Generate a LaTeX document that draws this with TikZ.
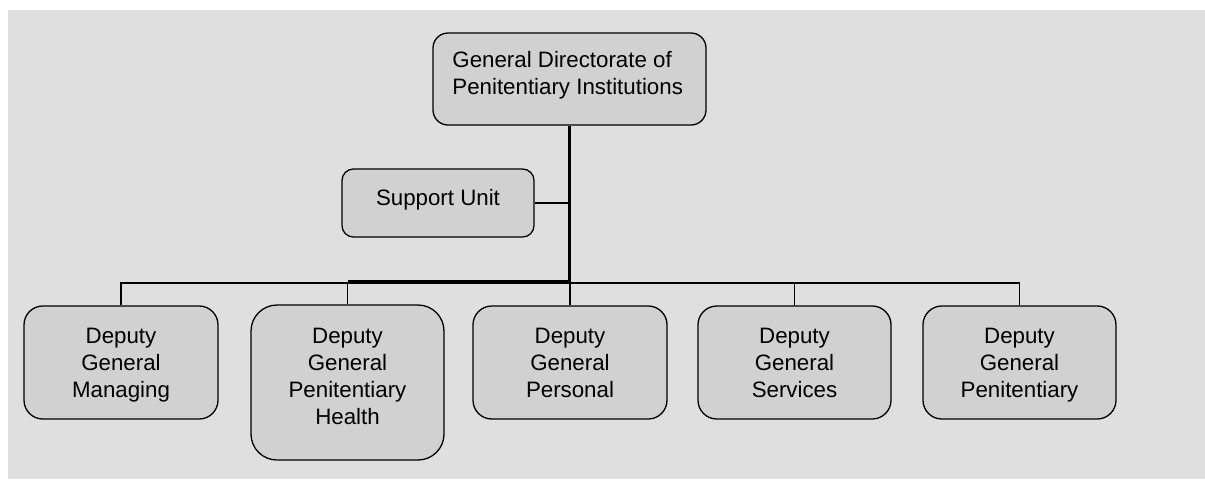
\documentclass[tikz,border=0pt]{standalone}
\usepackage{fontspec}
\setmainfont{Liberation Sans}
\definecolor{pagegray}{HTML}{DFDFDF}
\definecolor{boxgray}{HTML}{D1D1D1}
\begin{document}
\begin{tikzpicture}[x=0.5pt,y=-0.5pt,
  font=\fontsize{11.15}{13.5}\selectfont,
  unit/.style={draw=black, line width=0.65pt, fill=boxgray, inner sep=0pt},
  caption/.style={inner sep=0pt, align=center, anchor=base},
  link/.style={line width=0.65pt},
  spine/.style={line width=1.5pt}]
\useasboundingbox (0,0) rectangle (1205,479);
\fill[pagegray] (8,10) rectangle (1205,479);

% boxes (captions are placed by the baseline of their last line)
\node[unit, rounded corners=7.5pt, minimum width=136.5pt, minimum height=46pt] (top) at (569.5,79) {};
\node[inner sep=0pt, anchor=base west, align=left] at (452,94) {General Directorate of\\Penitentiary Institutions};

\node[unit, rounded corners=5.7pt, minimum width=96pt, minimum height=34pt] (sup) at (438,203) {};
\node[caption] at (438,205) {Support Unit};

\node[unit, rounded corners=9.4pt, minimum width=97pt, minimum height=56.5pt] (b1) at (121,362.5) {};
\node[unit, rounded corners=13pt, minimum width=96.5pt, minimum height=77.5pt] (b2) at (347.5,382.5) {};
\node[unit, rounded corners=9.4pt, minimum width=97pt, minimum height=56.5pt] (b3) at (570,362.5) {};
\node[unit, rounded corners=9.4pt, minimum width=96.5pt, minimum height=56.5pt] (b4) at (794.5,362.5) {};
\node[unit, rounded corners=9.4pt, minimum width=96.5pt, minimum height=56.5pt] (b5) at (1019.5,362.5) {};

\node[caption] at (121,397) {Deputy\\General\\Managing};
\node[caption] at (347.5,424) {Deputy\\General\\Penitentiary\\Health};
\node[caption] at (570,397) {Deputy\\General\\Personal};
\node[caption] at (794.5,397) {Deputy\\General\\Services};
\node[caption] at (1019.5,397) {Deputy\\General\\Penitentiary};

% connectors
\coordinate (hub) at (569.5,283);
\draw[spine] (top.south) -- (hub);
\draw[link] (sup.east) -- (sup.east -| hub);
\draw[link] (b1.north) -- (b1.north |- hub) -- (b5.north |- hub) -- (b5.north);
\draw[link] (b2.north) -- (b2.north |- hub);
\draw[link] (b3.north) -- (b3.north |- hub);
\draw[link] (b4.north) -- (b4.north |- hub);
\draw[spine] ([yshift=0.75pt]b2.north |- hub) -- ([yshift=0.75pt]hub);
\end{tikzpicture}
\end{document}
